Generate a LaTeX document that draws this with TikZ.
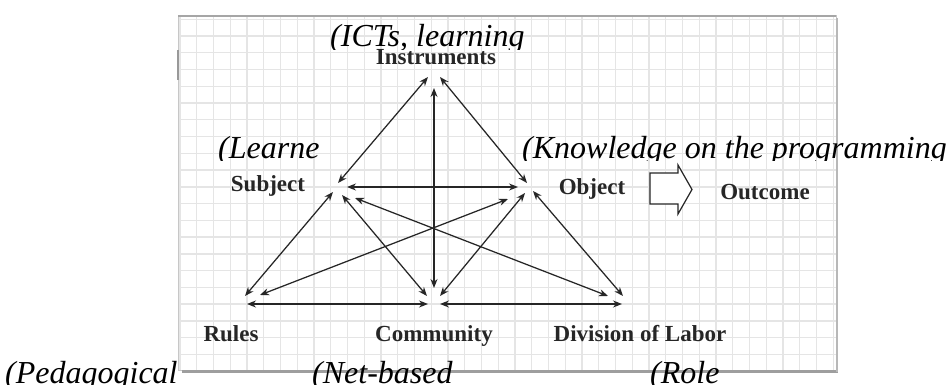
\documentclass[tikz,border=0pt]{standalone}
\usepackage{fontspec}
\setmainfont{Liberation Serif}
\usetikzlibrary{arrows.meta}
\begin{document}
\begin{tikzpicture}[x=1pt,y=-1pt,
  lbl/.style={font=\fontsize{23}{26}\selectfont\bfseries, text=black!85, inner sep=0pt, anchor=base},
  ital/.style={font=\fontsize{32}{36}\selectfont\itshape, inner sep=0pt, anchor=base west},
  link/.style={{Stealth[length=9pt,width=7pt]}-{Stealth[length=9pt,width=7pt]}, line width=1.25pt, draw=black!85},
  gridline/.style={draw=black!10, line width=1.4pt},
  blockarrow/.style={draw=black!85, fill=white, line width=1.2pt, line join=miter}]

\useasboundingbox (0,0) rectangle (948,385);
\clip (0,0) rectangle (948,385);

% panel with grid
\fill[white] (178,16) rectangle (836,370);
\foreach \i in {0,...,39} \draw[gridline] ({180+16.75*\i},16) -- ({180+16.75*\i},370);
\foreach \j in {0,...,20} \draw[gridline] (178,{19.3+16.75*\j}) -- (836,{19.3+16.75*\j});
\draw[black!22, line width=1pt] (178,16) rectangle (836,370);
\draw[black!35, line width=2pt] (178,16) -- (836,16);
\draw[black!38, line width=3pt] (182,371.5) -- (838,371.5);
\draw[black!28, line width=2pt] (837,18) -- (837,372);
\draw[black!40, line width=2pt] (178,50) -- (178,80);

% convergence points
\coordinate (vI) at (434,76);
\coordinate (vS) at (340,190);
\coordinate (vO) at (526,190);
\coordinate (vR) at (250,300);
\coordinate (vC) at (434,300);
\coordinate (vD) at (618,300);

% connectors
\draw[link] ([shift={(-6,1)}]vI) -- ([shift={(-2,-7)}]vS);
\draw[link] ([shift={(6,1)}]vI) -- ([shift={(1,-7)}]vO);
\draw[link] ([shift={(0,12)}]vI) -- ([shift={(0,-12)}]vC);
\draw[link] ([shift={(7,-3)}]vS) -- ([shift={(-8,-3)}]vO);
\draw[link] ([shift={(-7,2)}]vS) -- ([shift={(-5,-4)}]vR);
\draw[link] ([shift={(2,5)}]vS) -- ([shift={(-7,-4)}]vC);
\draw[link] ([shift={(15,8)}]vS) -- ([shift={(-10,-4)}]vD);
\draw[link] ([shift={(-18,9)}]vO) -- ([shift={(10,-5)}]vR);
\draw[link] ([shift={(-1,3)}]vO) -- ([shift={(6,-4)}]vC);
\draw[link] ([shift={(7,1)}]vO) -- ([shift={(5,-4)}]vD);
\draw[link] ([shift={(-3,4)}]vR) -- ([shift={(-6,4)}]vC);
\draw[link] ([shift={(6,4)}]vC) -- ([shift={(4,4)}]vD);

% block arrow to outcome
\draw[blockarrow] (650,173) -- (678,173) -- (678,165) -- (692,189.5) -- (678,214) -- (678,204) -- (650,204) -- cycle;

% labels
\node[lbl] (instr) at (436,65) {Instruments};
\node[lbl] (subj) at (268,192) {Subject};
\node[lbl] (obj) at (592,194) {Object};
\node[lbl] (outc) at (765,200) {Outcome};
\node[lbl] (rules) at (231,341) {Rules};
\node[lbl] (comm) at (434,341) {Community};
\node[lbl] (div) at (640,341) {Division of Labor};

% italic annotations (clipped as in the reference)
\begin{scope}
  \clip (300,0) rectangle (600,50);
  \node[ital] (tI) at (330,47) {(ICTs, learning};
\end{scope}
\begin{scope}
  \clip (200,100) rectangle (948,161);
  \node[ital] (tS) at (218,158) {(Learne};
  \node[ital] (tO) at (522,158) {(Knowledge on the programming};
\end{scope}
\node[ital] (tR) at (5,383) {(Pedagogical};
\node[ital] (tC) at (312,383) {(Net-based};
\node[ital] (tD) at (650,383) {(Role};

\end{tikzpicture}
\end{document}
